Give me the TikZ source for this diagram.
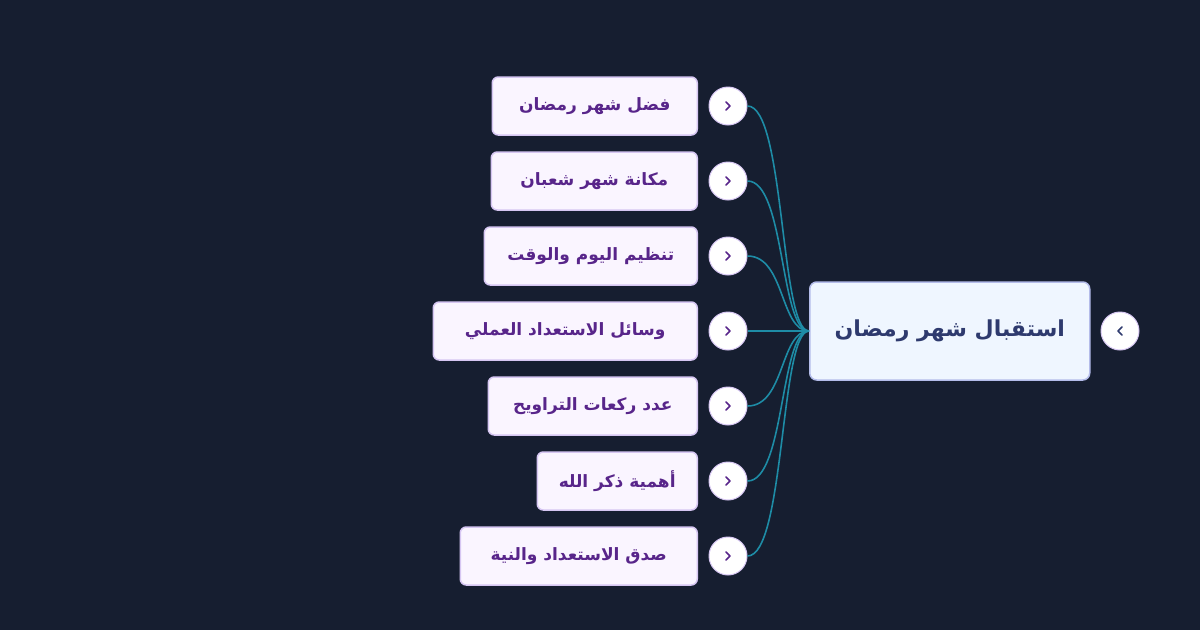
\documentclass[tikz,border=0pt]{standalone}
\usepackage{fontspec}
\newfontfamily\arabicfont[Script=Arabic]{DejaVu Sans}
\TeXXeTstate=1
\definecolor{bg}{HTML}{161E30}
\definecolor{cfill}{HTML}{FAF5FF}
\definecolor{cdraw}{HTML}{D6C6F2}
\definecolor{ctext}{HTML}{58258A}
\definecolor{rfill}{HTML}{EFF6FF}
\definecolor{rdraw}{HTML}{B4BCEA}
\definecolor{rtext}{HTML}{2E3A6E}
\definecolor{link}{HTML}{1E8CA6}
\tikzset{
 child/.style={draw=cdraw,fill=cfill,line width=1.5pt,rounded corners=6pt,minimum height=58pt,anchor=east,inner sep=0pt,text=ctext,font=\arabicfont\bfseries\fontsize{17}{20}\selectfont},
 rootbox/.style={draw=rdraw,fill=rfill,line width=1.5pt,rounded corners=7pt,minimum height=98pt,minimum width=280pt,anchor=west,inner sep=0pt,text=rtext,font=\arabicfont\bfseries\fontsize{22}{26}\selectfont},
 tog/.style={circle,draw=cdraw,fill=white,line width=1pt,minimum size=38pt,inner sep=0pt},
 chev/.style={line width=1.5pt,line cap=round,line join=round},
 conn/.style={draw=link,line width=1.6pt}
}
\begin{document}
\begin{tikzpicture}[x=1pt,y=-1pt]
\fill[bg] (0,0) rectangle (1200,630);
\node[rootbox] (root) at (809,331) {\beginR استقبال شهر رمضان\endR};
\node[tog] (rt) at (1120,331) {};
\draw[chev,rtext] ([shift={(2,-4)}]rt.center) -- ([shift={(-2,0)}]rt.center) -- ([shift={(2,4)}]rt.center);
\foreach \i/\y/\w/\t in {1/106/205/فضل شهر رمضان,2/181/206/مكانة شهر شعبان,3/256/213/تنظيم اليوم والوقت,4/331/264/وسائل الاستعداد العملي,5/406/209/عدد ركعات التراويح,6/481/160/أهمية ذكر الله,7/556/237/صدق الاستعداد والنية}{
 \node[child,minimum width=\w pt] (c\i) at (698,\y) {\raisebox{2pt}{\beginR \t\endR}};
 \node[tog] (t\i) at (728,\y) {};
 \draw[chev,ctext] ([shift={(-2,-4)}]t\i.center) -- ([shift={(2,0)}]t\i.center) -- ([shift={(-2,4)}]t\i.center);
 \draw[conn] (t\i.east) .. controls (785,\y) and (780,331) .. (root.west);
}
\end{tikzpicture}
\end{document}
